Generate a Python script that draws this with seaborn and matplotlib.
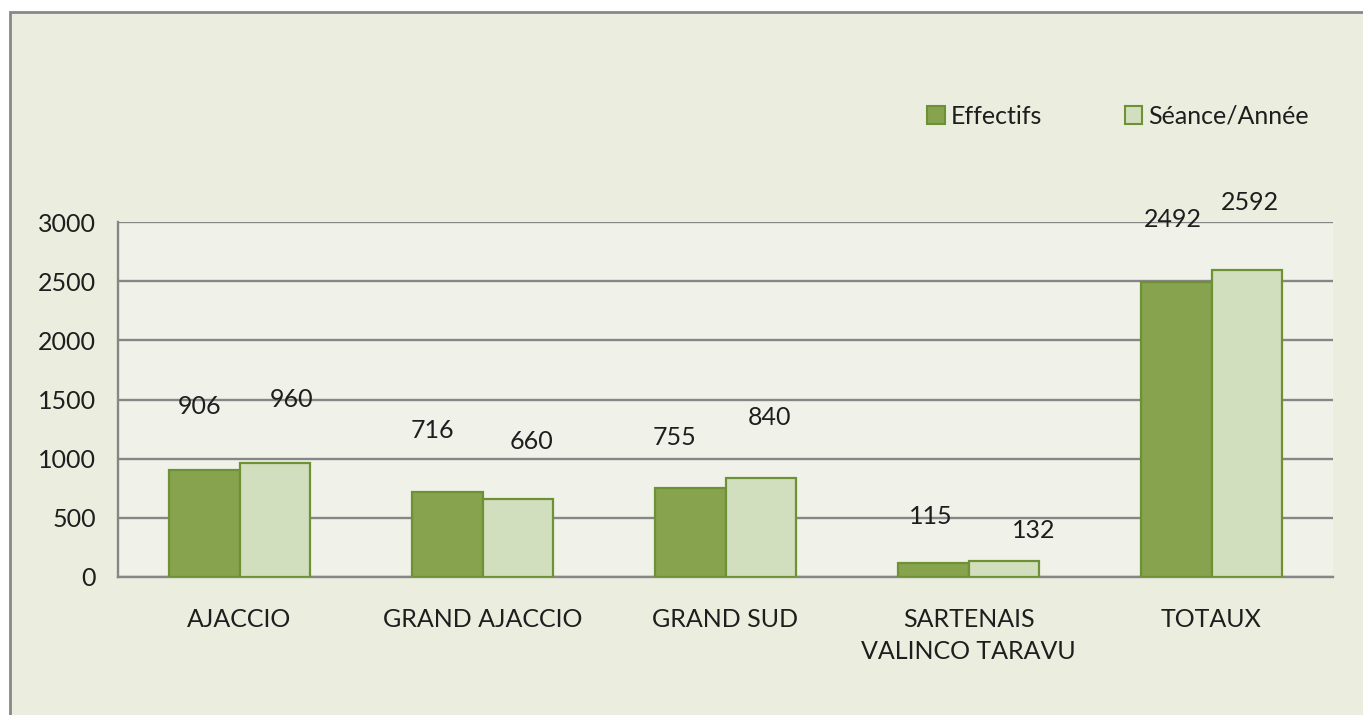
import pandas as pd
import matplotlib.pyplot as plt
import matplotlib.patches as mpatches
import seaborn as sns

# data
categories = ["AJACCIO", "GRAND AJACCIO", "GRAND SUD", "SARTENAIS\nVALINCO TARAVU", "TOTAUX"]
effectifs = [906, 716, 755, 115, 2492]
seances = [960, 660, 840, 132, 2592]
series_names = ["Effectifs", "Séance/Année"]

# where the value labels sit (x offset in category units, y in data units)
label_dx = [[-0.163, 0.216], [-0.208, 0.2], [-0.208, 0.183], [-0.154, 0.27], [-0.158, 0.158]]
label_y = [[1437, 1496], [1234, 1149], [1175, 1352], [515, 389], [3017, 3161]]

df = pd.DataFrame({
    "Secteur": categories * 2,
    "Valeur": effectifs + seances,
    "Serie": [series_names[0]] * len(categories) + [series_names[1]] * len(categories),
})

sns.set_style("white")
plt.rcParams['font.family'] = ['Lato', 'DejaVu Sans']

fig_bg = "#EBEEDF"
plot_bg = "#F0F2EA"
grid_col = "#868686"
text_col = "#1E1E1E"
fs = 18

fig = plt.figure(figsize=(13.63, 7.15), dpi=100, facecolor="white")
# outer chart frame
frame = mpatches.Rectangle((10 / 1363, -0.1), 1.5, 1.1 - 12 / 715, transform=fig.transFigure,
                           facecolor=fig_bg, edgecolor="#888888", linewidth=2, zorder=-1)
fig.patches.append(frame)

ax = fig.add_axes([118 / 1363, 1 - 577 / 715, (1333 - 118) / 1363, 355 / 715])
ax.set_facecolor(plot_bg)

palette = {"Effectifs": "#87A34D", "Séance/Année": "#D2DFBF"}
sns.barplot(data=df, x="Secteur", y="Valeur", hue="Serie", palette=palette,
            width=0.58, saturation=1, ax=ax, zorder=3)
for bar in ax.patches:
    bar.set_edgecolor("#6E9135")
    bar.set_linewidth(1.6)

ax.set_ylim(0, 3000)
ax.set_xlim(-0.5, len(categories) - 0.5)
ax.set_yticks(range(0, 3001, 500))
ax.yaxis.grid(True, color=grid_col, linewidth=1.7)
ax.set_axisbelow(True)
ax.set_xlabel("")
ax.set_ylabel("")

for s in ["top", "right"]:
    ax.spines[s].set_visible(False)
for s in ["left", "bottom"]:
    ax.spines[s].set_color(grid_col)
    ax.spines[s].set_linewidth(1.7)

ax.tick_params(axis="y", length=6, width=1.7, color=grid_col, labelsize=fs, labelcolor=text_col, pad=10)
ax.tick_params(axis="x", which="major", length=0, labelsize=fs, labelcolor=text_col, pad=22)
ax.set_xticks([i - 0.5 for i in range(len(categories) + 1)], minor=True)
ax.tick_params(axis="x", which="minor", length=8, width=1.7, color=grid_col)
for lbl in ax.get_xticklabels():
    lbl.set_linespacing(1.5)

# value labels
for i in range(len(categories)):
    for j, vals in enumerate([effectifs, seances]):
        ax.text(i + label_dx[i][j], label_y[i][j], str(vals[i]), ha="center", va="center",
                fontsize=fs, color=text_col, clip_on=False, zorder=5)

leg = ax.legend(loc="center right", bbox_to_anchor=(1309 / 1363, 1 - 116 / 715),
                bbox_transform=fig.transFigure, ncol=2, frameon=False, fontsize=fs,
                handlelength=0.7, handleheight=0.7, handletextpad=0.25, columnspacing=3.3,
                labelcolor=text_col, borderpad=0, borderaxespad=0)
for h in leg.legend_handles:
    h.set_edgecolor("#6E9135")
    h.set_linewidth(1.5)

fig.savefig("out.png", dpi=100, facecolor=fig.get_facecolor())
